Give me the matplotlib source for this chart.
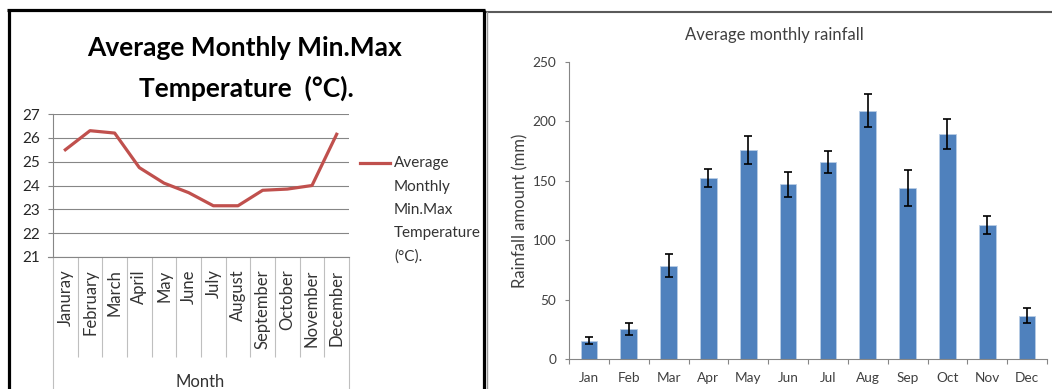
import matplotlib
matplotlib.use("Agg")
import matplotlib.pyplot as plt
from matplotlib.lines import Line2D
import numpy as np

# ---------------- data ----------------
temp_months = ["Januray", "February", "March", "April", "May", "June", "July",
               "August", "September", "October", "November", "December"]
temp_values = [25.5, 26.3, 26.2, 24.75, 24.1, 23.7, 23.15, 23.15, 23.8, 23.85, 24.0, 26.15]
temp_yticks = [21, 22, 23, 24, 25, 26, 27]

rain_months = ["Jan", "Feb", "Mar", "Apr", "May", "Jun", "Jul", "Aug", "Sep", "Oct", "Nov", "Dec"]
rain_values = [15.5, 25.0, 78.5, 152.0, 176.0, 147.0, 165.5, 209.0, 144.0, 189.0, 112.5, 36.5]
rain_errors = [3.2, 5.0, 9.8, 7.6, 11.5, 10.5, 9.3, 13.9, 15.4, 12.6, 7.5, 6.3]
rain_yticks = [0, 50, 100, 150, 200, 250]

plt.rcParams['font.family'] = ['Lato', 'DejaVu Sans']

W, H = 1052, 389
fig = plt.figure(figsize=(W / 100, H / 100), dpi=100)
fig.patch.set_facecolor('white')


def fx(px):
    return px / W


def fy(py):
    return 1 - py / H


def add_ax(x0, y0, x1, y1):
    return fig.add_axes([fx(x0), fy(y1), fx(x1) - fx(x0), fy(y0) - fy(y1)])


GRID = '#868686'
AX = '#868686'

# ---------------- left chart ----------------
axL = add_ax(53, 114, 349, 257)
n = len(temp_months)
xs = np.arange(n) + 0.5
axL.plot(xs, temp_values, color='#C0504D', lw=2.3, solid_joinstyle='round', zorder=3)
axL.set_xlim(0, n)
axL.set_ylim(21, 27)
axL.set_yticks(temp_yticks)
axL.set_yticklabels([str(v) for v in temp_yticks], fontsize=11, color='#262626')
axL.yaxis.grid(True, color=GRID, lw=0.8)
axL.set_axisbelow(True)
for s in ['top', 'right', 'bottom']:
    axL.spines[s].set_visible(False)
axL.spines['left'].set_color(AX)
axL.spines['left'].set_linewidth(0.8)
axL.tick_params(axis='y', length=3.6, width=0.8, color=AX, pad=6)
axL.set_xticks(xs)
axL.set_xticklabels(temp_months, rotation=90, fontsize=12, color='#333333', va='top')
axL.set_xticks(np.arange(1, n), minor=True)
axL.tick_params(axis='x', which='major', length=0, pad=9)
axL.tick_params(axis='x', which='minor', length=72, width=0.8, color='#BFBFBF', direction='out')
# outer category boundary lines extending to the bottom
for xpix in (53, 349):
    fig.add_artist(Line2D([fx(xpix), fx(xpix)], [fy(257), fy(389)], color='#BFBFBF', lw=0.8))
fig.add_artist(Line2D([fx(48), fx(349)], [fy(257), fy(257)], color=GRID, lw=0.8))

fig.text(fx(200), fy(382), "Month", fontsize=12, color='#333333', ha='center', va='center')

# title
fig.text(fx(245), fy(48), "Average Monthly Min.Max", fontsize=19, fontweight='bold',
         color='black', ha='center', va='center')
fig.text(fx(246), fy(88), "Temperature  (°C).", fontsize=19, fontweight='bold',
         color='black', ha='center', va='center')

# legend
fig.add_artist(Line2D([fx(360), fx(390)], [fy(163), fy(163)], color='#C0504D', lw=2.3))
for i, t in enumerate(["Average", "Monthly", "Min.Max", "Temperature", "(°C)."]):
    fig.text(fx(394), fy(163 + 23.5 * i), t, fontsize=11, color='#333333', ha='left', va='center')

# border box of left panel
for (xa, ya, xb, yb) in [(8.5, 10, 8.5, 389), (7, 10, 485, 10), (483.5, 10, 483.5, 389)]:
    fig.add_artist(Line2D([fx(xa), fx(xb)], [fy(ya), fy(yb)], color='black', lw=2.3,
                          solid_capstyle='butt'))
# right panel frame
fig.add_artist(Line2D([fx(487), fx(1052)], [fy(11.5), fy(11.5)], color='#5a5a5a', lw=1.5))
fig.add_artist(Line2D([fx(487), fx(487)], [fy(11.5), fy(389)], color='#9a9a9a', lw=1.0))

# ---------------- right chart ----------------
axR = add_ax(569, 62, 1047, 359)
m = len(rain_months)
xr = np.arange(m) + 0.5
axR.bar(xr, rain_values, width=0.42, color='#4F81BD', edgecolor='#B9CDE5', linewidth=0.6, zorder=2)
axR.errorbar(xr, rain_values, yerr=rain_errors, fmt='none', ecolor='black',
             elinewidth=1.2, capsize=2.6, capthick=1.2, zorder=3)
axR.set_xlim(0, m)
axR.set_ylim(0, 250)
axR.set_yticks(rain_yticks)
axR.set_yticklabels([str(v) for v in rain_yticks], fontsize=9.8, color='#404040')
for s in ['top', 'right']:
    axR.spines[s].set_visible(False)
for s in ['left', 'bottom']:
    axR.spines[s].set_color(AX)
    axR.spines[s].set_linewidth(0.8)
axR.tick_params(axis='y', length=3.2, width=0.8, color=AX, pad=6)
axR.set_xticks(xr)
axR.set_xticklabels(rain_months, fontsize=9.8, color='#404040')
axR.set_xticks(np.arange(0, m + 1), minor=True)
axR.tick_params(axis='x', which='major', length=0, pad=9)
axR.tick_params(axis='x', which='minor', length=3.6, width=0.8, color=AX)
axR.set_ylabel("Rainfall amount (mm)", fontsize=12, color='#404040', labelpad=3)

fig.text(fx(774), fy(35), "Average monthly rainfall", fontsize=12, color='#404040',
         ha='center', va='center')

fig.savefig("out.png", dpi=100, facecolor='white')
